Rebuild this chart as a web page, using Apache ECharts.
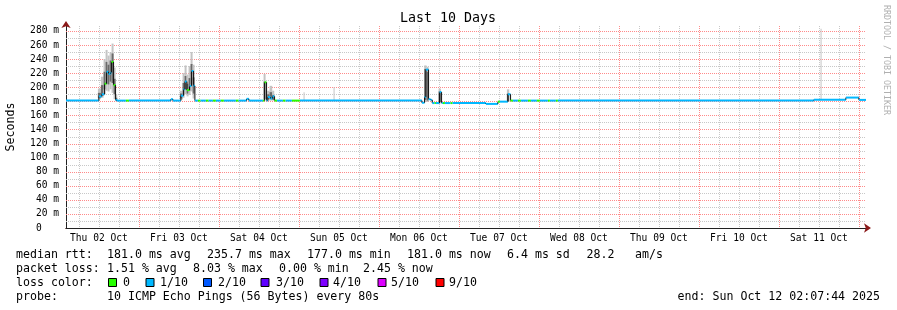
<!DOCTYPE html>
<html>
<head>
<meta charset="utf-8">
<script src="https://cdn.jsdelivr.net/npm/echarts@6/dist/echarts.min.js"></script>
<style>
  html, body { margin: 0; padding: 0; background: #fff; }
  #mainPlot { width: 897px; height: 310px; }
</style>
</head>
<body>
<div id="mainPlot"></div>
<script>
// hours since Thu 02 Oct 00:00
const startHour = 2.129;
const endHour = 242.129;

const dayLabels = ["Thu 02 Oct", "Fri 03 Oct", "Sat 04 Oct", "Sun 05 Oct", "Mon 06 Oct",
  "Tue 07 Oct", "Wed 08 Oct", "Thu 09 Oct", "Fri 10 Oct", "Sat 11 Oct"];
const yTicks = [0, 20, 40, 60, 80, 100, 120, 140, 160, 180, 200, 220, 240, 260, 280];

// median rtt steps (ms) and lost pings out of 10
const medianStart = [2.13, 12.0, 12.9, 13.7, 14.3, 14.9, 15.5, 15.8, 16.4, 17.0, 17.4, 20.1, 21.0,
  33.6, 34.2, 36.6, 37.4, 37.8, 38.4, 39.2, 39.8, 40.4, 40.8, 41.7, 42.5, 44.1, 44.9, 46.2, 47.1,
  48.6, 49.5, 53.1, 53.9, 56.3, 57.0, 61.2, 61.7, 62.3, 62.7, 63.5, 64.1, 64.7, 65.4, 67.2, 68.0,
  69.9, 72.3, 108.9, 109.7, 110.1, 110.9, 111.5, 112.0, 112.7, 113.1, 114.2, 114.8, 115.2, 115.8,
  117.5, 118.1, 128.1, 131.7, 132.3, 134.7, 135.5, 136.2, 137.7, 138.6, 140.7, 141.6, 143.4, 144.3,
  146.7, 147.3, 149.1, 149.7, 226.5, 236.1, 240.0];
const medianMs = [181, 187, 190, 205, 222, 219, 221, 236, 203, 182, 181, 181, 181,
  183, 181, 188, 197, 208, 196, 202, 223, 202, 181, 181, 181, 181, 181, 181, 181,
  181, 181, 181, 181, 183.5, 181, 181, 207, 181, 186, 184, 187, 181, 181, 181, 181,
  181, 181, 178, 186, 225, 183, 182, 177.5, 177.5, 177.5, 193, 177.5, 177.5, 177.5,
  177.5, 177.5, 176.3, 179.5, 179.5, 190, 181, 181, 181, 181, 181, 181, 181, 181,
  181, 181, 181, 181, 182.3, 185.3, 182];
const lossCount = [1, 1, 1, 0, 1, 1, 1, 0, 0, 1, 1, 0, 1,
  1, 1, 1, 1, 1, 0, 1, 1, 1, 1, 0, 1, 0, 1, 0, 1,
  0, 1, 0, 1, 1, 1, 0, 0, 1, 1, 1, 1, 0, 1, 0, 1,
  0, 1, 1, 1, 1, 1, 1, 1, 0, 1, 1, 1, 0, 1,
  0, 1, 1, 0, 1, 1, 0, 1, 0, 1, 0, 1, 0, 1,
  0, 1, 0, 1, 1, 1, 1];

// smoke: spread of the 10 pings per step
const smokeStart = [11.7, 12.6, 13.4, 14.0, 14.6, 15.2, 15.8, 16.4, 17.0,
  36.3, 37.1, 37.7, 38.3, 38.9, 39.5, 40.1,
  61.4, 62.5, 63.2, 64.0, 73.4, 82.4,
  109.6, 110.3, 113.9, 134.4, 228.5];
const smokeEnd = [12.6, 13.4, 14.0, 14.6, 15.2, 15.8, 16.4, 17.0, 17.5,
  37.1, 37.7, 38.3, 38.9, 39.5, 40.1, 40.7,
  62.0, 63.2, 64.0, 64.6, 73.7, 82.7,
  110.3, 110.9, 114.6, 135.1, 228.8];
const smokeLow = [183, 185, 190, 195, 194, 197, 192, 183, 180,
  182, 185, 190, 187, 189, 194, 184,
  181, 181, 181, 181, 181, 181,
  179, 179, 177, 179, 182];
const smokeHigh = [198, 215, 240, 253, 245, 250, 262, 228, 190,
  195, 220, 231, 218, 230, 250, 232,
  219, 195, 202, 195, 193, 200,
  231, 229, 198, 197, 283];
const smokeCoreLow = [185, 188, 197, 205, 204, 208, 206, 190, 181,
  184, 190, 197, 191, 195, 204, 191,
  183, 183, 183, 182, 181, 181,
  182, 181, 179, 180, 182];
const smokeCoreHigh = [192, 203, 222, 236, 232, 238, 248, 212, 185,
  191, 206, 216, 205, 213, 233, 214,
  208, 190, 193, 189, 181, 181,
  226, 222, 194, 191, 182];

const lossColors = { 0: "#26ff00", 1: "#00b8ff", 2: "#0059ff", 3: "#5e00ff", 4: "#7e00ff", 5: "#dd00ff", 9: "#ff0000" };
const legendLoss = [["0", "#26ff00"], ["1/10", "#00b8ff"], ["2/10", "#0059ff"], ["3/10", "#5e00ff"],
  ["4/10", "#7e00ff"], ["5/10", "#dd00ff"], ["9/10", "#ff0000"]];

const mono = "DejaVu Sans Mono";
const minorColor = "#c8c8c8";
const majorColor = "#ff8a8a";

const medianData = medianStart.map((t, i) => [
  t, i + 1 < medianStart.length ? medianStart[i + 1] : endHour,
  medianMs[i], lossCount[i], i > 0 ? medianMs[i - 1] : medianMs[i]
]);
const smokeData = smokeStart.map((t, i) => [t, smokeEnd[i], smokeLow[i], smokeHigh[i], smokeCoreLow[i], smokeCoreHigh[i]]);

const sixHours = [];
const midnights = [];
for (let h = 6; h < endHour; h += 6) {
  if (h % 24 === 0) midnights.push(h); else if (h > startHour) sixHours.push(h);
}
const noons = dayLabels.map((d, i) => 12 + i * 24);
const minorY = yTicks.slice(0, -1).map((v) => v + 10);
const majorY = yTicks.slice(1);

// all grid lines drawn by one custom item, positions from the axes
function renderGrid(params, api) {
  const cs = params.coordSys;
  const top = cs.y, bottom = cs.y + cs.height, left = cs.x, right = cs.x + cs.width;
  const lines = [];
  const vLine = (h, color) => {
    const x = Math.round(api.coord([h, 0])[0]) + 0.5;
    lines.push({ type: "line", shape: { x1: x, y1: top, x2: x, y2: bottom }, style: { stroke: color, lineWidth: 1, lineDash: [1, 1] } });
  };
  const hLine = (v, color) => {
    const y = Math.round(api.coord([startHour, v])[1]) + 0.5;
    lines.push({ type: "line", shape: { x1: left, y1: y, x2: right, y2: y }, style: { stroke: color, lineWidth: 1, lineDash: [1, 1] } });
  };
  minorY.forEach((v) => hLine(v, minorColor));
  sixHours.forEach((h) => vLine(h, minorColor));
  majorY.forEach((v) => hLine(v, majorColor));
  midnights.forEach((h) => vLine(h, majorColor));
  return { type: "group", children: lines };
}

const chart = echarts.init(document.getElementById("mainPlot"));

function textEl(x, y, text, extra) {
  return Object.assign({
    type: "text", x: x, y: y,
    style: { text: text, font: "11.6px " + mono, fill: "#000", verticalAlign: "middle" }
  }, extra || {});
}

const graphics = [
  textEl(448, 19, "Last 10 Days", { style: { text: "Last 10 Days", font: "13.3px " + mono, fill: "#000", align: "center", verticalAlign: "middle" } }),
  { type: "text", x: 886, y: 60, rotation: -Math.PI / 2,
    style: { text: "RRDTOOL / TOBI OETIKER", font: "8.3px " + mono, fill: "#b0b0b0", align: "center", verticalAlign: "middle" } },
  textEl(16, 254.5, "median rtt:"),
  textEl(107, 254.5, "181.0 ms avg"),
  textEl(207, 254.5, "235.7 ms max"),
  textEl(307, 254.5, "177.0 ms min"),
  textEl(407, 254.5, "181.0 ms now"),
  textEl(507, 254.5, "6.4 ms sd"),
  textEl(586.5, 254.5, "28.2"),
  textEl(635, 254.5, "am/s"),
  textEl(16, 268.5, "packet loss:"),
  textEl(107, 268.5, "1.51 % avg"),
  textEl(193, 268.5, "8.03 % max"),
  textEl(279, 268.5, "0.00 % min"),
  textEl(363, 268.5, "2.45 % now"),
  textEl(16, 282.5, "loss color:"),
  textEl(16, 296.5, "probe:"),
  textEl(107, 296.5, "10 ICMP Echo Pings (56 Bytes) every 80s"),
  textEl(880, 296.5, "end: Sun Oct 12 02:07:44 2025", { style: { text: "end: Sun Oct 12 02:07:44 2025", font: "11.6px " + mono, fill: "#000", align: "right", verticalAlign: "middle" } })
];
const boxX = [108.5, 146, 203.5, 261, 320, 378, 436];
const boxTextX = [123, 160, 218, 276, 333, 391, 449];
legendLoss.forEach((l, i) => {
  graphics.push({ type: "rect", shape: { x: boxX[i], y: 278.5, width: 8, height: 8 },
    style: { fill: l[1], stroke: "#000", lineWidth: 1 } });
  graphics.push(textEl(boxTextX[i], 282.5, l[0]));
});

const option = {
  backgroundColor: "#fff",
  animation: false,
  grid: { left: 66, top: 26, width: 800, height: 202, outerBoundsMode: "none", containLabel: false },
  graphic: graphics,
  xAxis: [
    {
      type: "value", min: startHour, max: endHour,
      axisLine: { show: true, lineStyle: { color: "#8b1a1a", width: 1 }, symbol: ["none", "arrow"], symbolSize: [7, 7], symbolOffset: [0, 5] },
      axisTick: { show: false },
      splitLine: { show: false },
      axisLabel: {
        customValues: noons, margin: 5, color: "#000", fontFamily: mono, fontSize: 9.6,
        formatter: (v) => dayLabels[Math.round((v - 12) / 24)]
      }
    },
    {
      type: "value", min: startHour, max: endHour,
      axisLine: { show: true, lineStyle: { color: "#222", width: 1 } },
      axisTick: { show: false },
      axisLabel: { show: false },
      splitLine: { show: false }
    }
  ],
  yAxis: [
    {
      type: "value", min: 0, max: 287,
      name: "Seconds", nameLocation: "middle", nameGap: 49, nameRotate: 90,
      nameTextStyle: { fontFamily: mono, fontSize: 11.6, color: "#000" },
      axisLine: { show: true, lineStyle: { color: "#8b1a1a", width: 1 }, symbol: ["none", "arrow"], symbolSize: [7, 7], symbolOffset: [0, 5] },
      axisTick: { show: false },
      axisLabel: { show: false },
      splitLine: { show: false }
    },
    {
      type: "value", min: 0, max: 287, position: "left",
      axisLine: { show: true, lineStyle: { color: "#222", width: 1 } },
      axisTick: { show: false },
      axisLabel: {
        customValues: yTicks, margin: 7, color: "#000", fontFamily: mono, fontSize: 9.6,
        formatter: (v) => (v === 0 ? "0   " : v + " m")
      },
      splitLine: { show: false }
    }
  ],
  series: [
    {
      type: "custom", name: "grid lines", xAxisIndex: 0, yAxisIndex: 0, z: 1, silent: true,
      data: [[startHour + 1, 100]],
      encode: { x: 0, y: 1 },
      renderItem: renderGrid
    },
    {
      type: "custom", name: "smoke", xAxisIndex: 0, yAxisIndex: 0, z: 2,
      encode: { x: [0, 1], y: [2, 3] },
      data: smokeData,
      clip: true,
      renderItem: (params, api) => {
        const a = api.coord([api.value(0), api.value(3)]);
        const b = api.coord([api.value(1), api.value(2)]);
        const c = api.coord([api.value(0), api.value(5)]);
        const d = api.coord([api.value(1), api.value(4)]);
        const w = Math.max(1, b[0] - a[0]);
        return {
          type: "group", children: [
            { type: "rect", shape: { x: a[0], y: a[1], width: w, height: b[1] - a[1] }, style: { fill: "#c4c4c4" } },
            { type: "rect", shape: { x: c[0], y: c[1], width: w, height: Math.max(0, d[1] - c[1]) }, style: { fill: "#6a6a6a" } }
          ]
        };
      }
    },
    {
      type: "custom", name: "median rtt", xAxisIndex: 0, yAxisIndex: 0, z: 3,
      encode: { x: [0, 1], y: [2, 4] },
      data: medianData,
      clip: true,
      renderItem: (params, api) => {
        const p0 = api.coord([api.value(0), api.value(2)]);
        const p1 = api.coord([api.value(1), api.value(2)]);
        const pv = api.coord([api.value(0), api.value(4)]);
        const col = lossColors[api.value(3)] || "#ff0000";
        const children = [];
        if (Math.abs(pv[1] - p0[1]) > 0.5) {
          children.push({ type: "line", shape: { x1: p0[0], y1: pv[1], x2: p0[0], y2: p0[1] }, style: { stroke: "#111", lineWidth: 1 } });
        }
        children.push({ type: "line", shape: { x1: p0[0], y1: p0[1], x2: p1[0], y2: p1[1] }, style: { stroke: col, lineWidth: 2 } });
        return { type: "group", children: children };
      }
    }
  ]
};
chart.setOption(option);
</script>
</body>
</html>
